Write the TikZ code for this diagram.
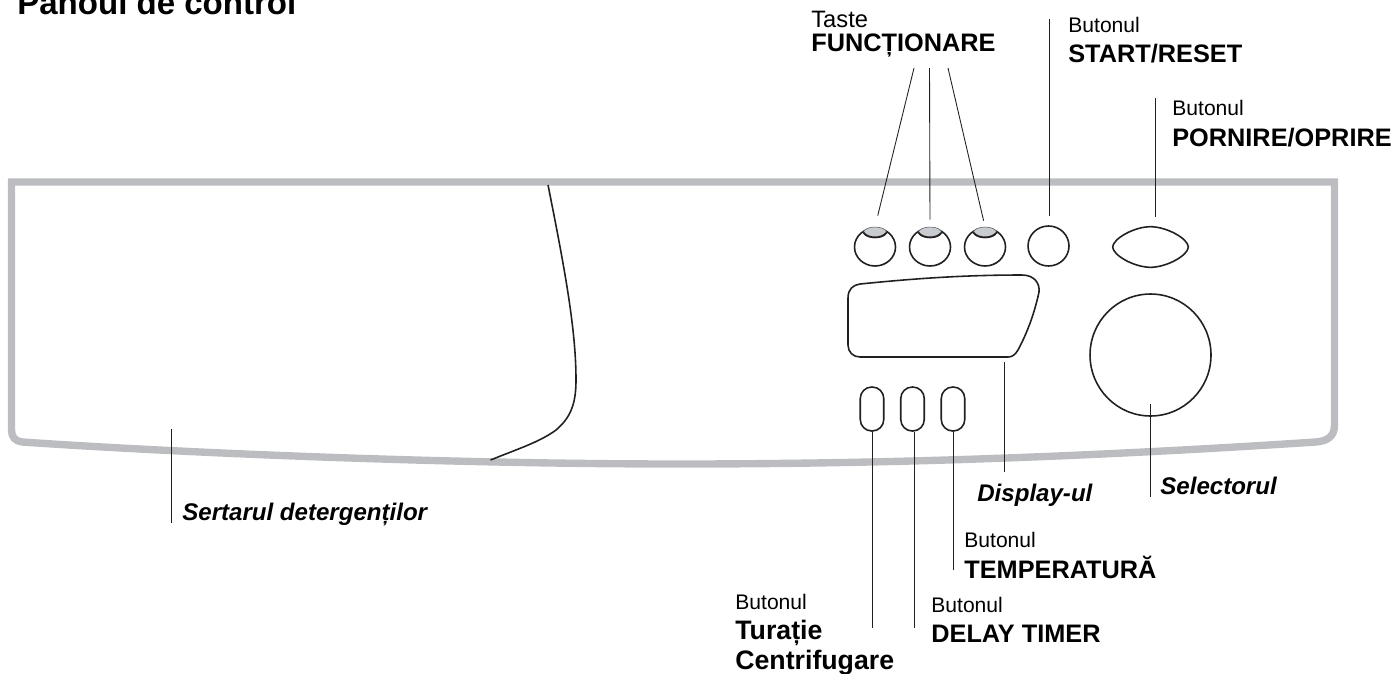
\documentclass[tikz,border=0pt]{standalone}
\usepackage{fontspec}
\setmainfont{Liberation Sans}
\usepackage{xcolor}
\usetikzlibrary{shapes.geometric}
\definecolor{panelgray}{RGB}{188,189,193}
\definecolor{capgray}{RGB}{200,203,208}
\definecolor{inkblack}{RGB}{35,31,32}
\tikzset{
  outline/.style={draw=inkblack, line width=0.9pt},
  oval/.style={outline, ellipse, inner sep=0pt},
  leader/.style={draw=inkblack, line width=0.5pt},
  txtplain/.style={anchor=base west, inner sep=0pt, text=black, font=\fontsize{12}{14}\selectfont},
  txtbold/.style={anchor=base west, inner sep=0pt, text=black, font=\fontsize{14.4}{16}\selectfont\bfseries},
  txtwide/.style={anchor=base west, inner sep=0pt, text=black, font=\fontsize{15.2}{17}\selectfont\bfseries},
  txtital/.style={anchor=base west, inner sep=0pt, text=black, font=\fontsize{13.7}{16}\selectfont\bfseries\itshape},
}

\begin{document}
\begin{tikzpicture}[x=0.02cm, y=-0.02cm]
  \useasboundingbox (0,0) rectangle (1398,673);
  % Panel frame
  \draw[panelgray, line width=4.2pt, miter limit=10] (11.5,430) -- (11.5,182) -- (1334.5,182) -- (1334.5,425)
    .. controls (1334.5,436) and (1328,441) .. (1316,442)
    .. controls (1100,456) and (900,464) .. (680,464)
    .. controls (460,464) and (200,454) .. (22,442)
    .. controls (15,441) and (11.5,437) .. (11.5,430);
  % Drawer edge
  \draw[inkblack, line width=0.9pt] (548,185) .. controls (565,270) and (576,330) .. (576,380)
    .. controls (576,405) and (570,418) .. (556,430)
    .. controls (540,442) and (515,450) .. (490.5,460);
  % Function keys
  \foreach \name/\xpos in {keyA/875, keyB/930, keyC/985} {
    \node[oval, minimum width=0.82cm, minimum height=0.76cm] (\name) at (\xpos,247) {};
    \node[oval, draw=inkblack!70, fill=capgray, line width=0.3pt, minimum width=0.46cm, minimum height=0.22cm] (\name cap) at (\xpos,232.5) {};
    \draw[inkblack, line width=1pt] (\name cap.west) .. controls +(5,6.5) and +(-5,6.5) .. (\name cap.east);
  }
  \node[oval, minimum width=0.82cm, minimum height=0.8cm] (btnStart) at (1048.5,246) {};
  % Power button, drawn around an empty node
  \node[minimum width=1.5cm, minimum height=0.8cm, inner sep=0pt] (btnPower) at (1150.5,247) {};
  \draw[outline] (btnPower.west) .. controls (1113,239) and (1133,227) .. (btnPower.north)
    .. controls (1168,227) and (1188,239) .. (btnPower.east)
    .. controls (1188,255) and (1168,267) .. (btnPower.south)
    .. controls (1133,267) and (1113,255) .. (btnPower.west) -- cycle;
  % Display
  \node[minimum width=3.82cm, minimum height=1.64cm, inner sep=0pt] (dispPanel) at (943.5,316) {};
  \draw[outline] (848,298) .. controls (848,289) and (853,285) .. (860,284)
    .. controls (910,279) and (960,275) .. (1022,275)
    .. controls (1034,275) and (1040,283) .. (1039,292)
    .. controls (1034,315) and (1027,333) .. (1018,350)
    .. controls (1015,355) and (1012,357) .. (1008,357)
    -- (860,357) .. controls (853,357) and (848,352) .. (848,345) -- cycle;
  \node[oval, minimum width=2.42cm, minimum height=2.44cm] (selector) at (1150.5,355) {};
  % Small buttons
  \foreach \name/\xpos in {btnTurn/872, btnDelay/912.5, btnTemp/953} {
    \node[outline, rounded corners=0.23cm, minimum width=0.47cm, minimum height=0.88cm, inner sep=0pt] (\name) at (\xpos,409) {};
  }

  % Labels
  \node[anchor=base west, inner sep=0pt, font=\fontsize{18.8}{21}\selectfont\bfseries] (title) at (17,14) {Panoul de control};
  \node[txtplain, font=\fontsize{13.5}{15}\selectfont] (lblTaste) at (811,27) {Taste};
  \node[txtbold] (lblFunc) at (811,51) {FUNCȚIONARE};
  \node[txtplain] (lblStartA) at (1068,32) {Butonul};
  \node[txtbold] (lblStartB) at (1068,62) {START/RESET};
  \node[txtplain] (lblPowerA) at (1172,115) {Butonul};
  \node[txtbold] (lblPowerB) at (1172,146) {PORNIRE/OPRIRE};
  \node[txtital] (lblDisplay) at (977,501) {Display-ul};
  \node[txtital] (lblSelector) at (1160,494) {Selectorul};
  \node[txtital] (lblDrawer) at (182,520) {Sertarul detergenților};
  \node[txtplain] (lblTempA) at (964,547) {Butonul};
  \node[txtbold] (lblTempB) at (964,578) {TEMPERATURĂ};
  \node[txtplain] (lblDelayA) at (931,612) {Butonul};
  \node[txtbold] (lblDelayB) at (931,642) {DELAY TIMER};
  \node[txtplain] (lblTurnA) at (735,609) {Butonul};
  \node[txtwide] (lblTurnB) at (735,639) {Turație};
  \node[txtwide] (lblTurnC) at (735,669) {Centrifugare};

  % Leader lines
  \coordinate (tipKeyA) at (914,68);
  \coordinate (tipKeyB) at (929.5,68);
  \coordinate (tipKeyC) at (948,68);
  \coordinate (tipStart) at (1049.5,19);
  \coordinate (tipPower) at (1155,98);
  \coordinate (tipDisplay) at (1004,472);
  \coordinate (tipSelector) at (1150.5,497);
  \coordinate (tipTurn) at (872,628);
  \coordinate (tipDelay) at (914,628);
  \coordinate (tipTemp) at (953,570);
  \coordinate (tipDrawerA) at (171,429);
  \coordinate (tipDrawerB) at (171,523);
  \draw[leader, shorten >=6.5pt] (tipKeyA) -- (keyAcap.north);
  \draw[leader, shorten >=4pt] (tipKeyB) -- (keyBcap.north);
  \draw[leader, shorten >=3.5pt] (tipKeyC) -- (keyCcap.north);
  \draw[leader, shorten >=5pt] (tipStart) -- (tipStart |- btnStart.north);
  \draw[leader, shorten >=5.5pt] (tipPower) -- (tipPower |- btnPower.north);
  \draw[leader, shorten >=2.5pt] (tipDisplay) -- (tipDisplay |- dispPanel.south);
  \draw[leader, shorten >=-7.4pt] (tipSelector) -- (selector.south);
  \draw[leader] (tipTurn) -- (tipTurn |- btnTurn.south);
  \draw[leader] (tipDelay) -- (tipDelay |- btnDelay.south);
  \draw[leader] (tipTemp) -- (tipTemp |- btnTemp.south);
  \draw[leader] (tipDrawerA) -- (tipDrawerB);
\end{tikzpicture}
\end{document}
